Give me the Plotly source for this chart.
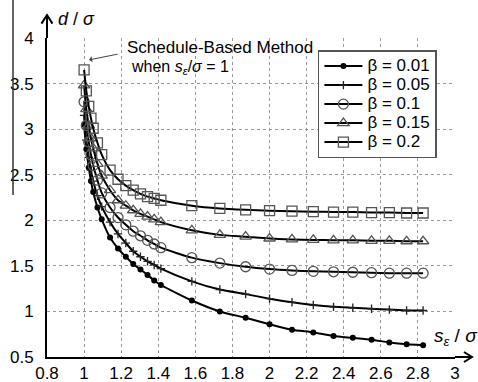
import plotly.graph_objects as go

# ---- data ----
s_ratio = [1.0, 1.012, 1.025, 1.037, 1.049, 1.072, 1.095, 1.14, 1.183, 1.225, 1.265, 1.304,
           1.342, 1.378, 1.414, 1.581, 1.732, 1.871, 2.0, 2.121, 2.236, 2.345, 2.449, 2.55,
           2.646, 2.739, 2.828]

d_beta_001 = [3.05, 2.78, 2.58, 2.43, 2.31, 2.14, 2.01, 1.81, 1.69, 1.60, 1.52, 1.46, 1.40, 1.34,
              1.29, 1.12, 1.00, 0.93, 0.86, 0.80, 0.77, 0.73, 0.71, 0.69, 0.66, 0.64, 0.63]
d_beta_005 = [3.15, 2.88, 2.69, 2.55, 2.43, 2.27, 2.15, 1.98, 1.85, 1.75, 1.66, 1.60, 1.55, 1.51,
              1.47, 1.33, 1.24, 1.19, 1.14, 1.10, 1.07, 1.05, 1.04, 1.03, 1.02, 1.01, 1.01]
d_beta_010 = [3.30, 3.04, 2.86, 2.72, 2.60, 2.44, 2.30, 2.14, 2.03, 1.95, 1.88, 1.83, 1.78, 1.74,
              1.70, 1.59, 1.53, 1.49, 1.465, 1.45, 1.44, 1.435, 1.43, 1.425, 1.42, 1.42, 1.42]
d_beta_015 = [3.48, 3.22, 3.04, 2.90, 2.79, 2.62, 2.49, 2.33, 2.22, 2.16, 2.11, 2.07, 2.04, 2.01,
              1.98, 1.89, 1.84, 1.82, 1.80, 1.79, 1.785, 1.78, 1.78, 1.775, 1.775, 1.77, 1.77]
d_beta_020 = [3.65, 3.42, 3.25, 3.12, 3.01, 2.85, 2.72, 2.55, 2.45, 2.38, 2.33, 2.29, 2.26, 2.24,
              2.22, 2.16, 2.13, 2.115, 2.105, 2.10, 2.095, 2.09, 2.09, 2.085, 2.085, 2.08, 2.08]

series_names = ["β = 0.01", "β = 0.05", "β = 0.1", "β = 0.15", "β = 0.2"]
series_values = [d_beta_001, d_beta_005, d_beta_010, d_beta_015, d_beta_020]

x_ticks = [0.8, 1.0, 1.2, 1.4, 1.6, 1.8, 2.0, 2.2, 2.4, 2.6, 2.8, 3.0]
x_tick_labels = ["0.8", "1", "1.2", "1.4", "1.6", "1.8", "2", "2.2", "2.4", "2.6", "2.8", "3"]
y_ticks = [0.5, 1.0, 1.5, 2.0, 2.5, 3.0, 3.5, 4.0]
y_tick_labels = ["0.5", "1", "1.5", "2", "2.5", "3", "3.5", "4"]

# ---- styles ----
FONT = "Liberation Sans, Arial, sans-serif"
marker_styles = [
    dict(symbol="circle", size=6, color="black", line=dict(width=0)),
    dict(symbol="cross-thin-open", size=6, color="#222", line=dict(width=1.3, color="#222")),
    dict(symbol="circle-open", size=10, color="#555", line=dict(width=1.3, color="#555")),
    dict(symbol="triangle-up-open", size=10, color="#555", line=dict(width=1.3, color="#555")),
    dict(symbol="square-open", size=10, color="#555", line=dict(width=1.3, color="#555")),
]

fig = go.Figure()
for name, vals, ms in zip(series_names, series_values, marker_styles):
    fig.add_trace(go.Scatter(
        x=s_ratio, y=vals, mode="lines+markers", name=f'<span style="font-size:17px">{name}</span>',
        line=dict(color="black", width=2, shape="spline", smoothing=0.6),
        marker=ms,
    ))

axis_common = dict(
    showgrid=True, gridcolor="#9a9a9a", griddash="dot", gridwidth=1,
    showline=True, linecolor="black", linewidth=2, mirror=False,
    zeroline=False, ticks="outside", tickcolor="rgba(0,0,0,0)",
    tickfont=dict(family=FONT, size=17, color="black"),
    automargin=False,
)

fig.update_layout(
    width=478, height=382,
    margin=dict(l=47, r=23, t=38, b=25, autoexpand=False),
    paper_bgcolor="white", plot_bgcolor="white",
    font=dict(family=FONT, color="black"),
    showlegend=True,
    legend=dict(
        x=0.664, y=0.962, xanchor="left", yanchor="top",
        bgcolor="white", bordercolor="#555", borderwidth=1.5,
        font=dict(family=FONT, size=12, color="black"),
        itemwidth=38,
    ),
    xaxis=dict(range=[0.8, 3.0], tickvals=x_ticks, ticktext=x_tick_labels, ticklen=0, **axis_common),
    yaxis=dict(range=[0.5, 4.0], tickvals=y_ticks, ticktext=y_tick_labels, ticklen=8, **axis_common),
)

# axis arrows (paper coordinates)
fig.add_shape(type="line", xref="paper", yref="paper", x0=0, x1=0, y0=1, y1=1.072,
              line=dict(color="black", width=2))
fig.add_shape(type="path", xref="paper", yref="paper",
              path="M -0.0135,1.045 L 0,1.072 L 0.0135,1.045", line=dict(color="black", width=2))
fig.add_shape(type="line", xref="paper", yref="paper", x0=1, x1=1.0417, y0=0, y1=0,
              line=dict(color="black", width=2))
fig.add_shape(type="path", xref="paper", yref="paper",
              path="M 1.022,0.0157 L 1.0417,0 L 1.022,-0.0157", line=dict(color="black", width=2))
# stray vertical line at the left edge of the reference
fig.add_shape(type="line", xref="paper", yref="paper", x0=-0.0833, x1=-0.0833, y0=0.508, y1=1.119,
              line=dict(color="#333", width=1.5))

# axis titles
fig.add_annotation(xref="paper", yref="paper", x=0.022, y=1.058, xanchor="left", yanchor="middle",
                   text="<i>d</i> / <i>σ</i>", showarrow=False, font=dict(family=FONT, size=18))
fig.add_annotation(xref="paper", yref="paper", x=0.944, y=0.063, xanchor="left", yanchor="middle",
                   text="<i>s</i><sub><i>ε</i></sub> / <i>σ</i>", showarrow=False,
                   font=dict(family=FONT, size=19))

# schedule-based method note
fig.add_annotation(xref="paper", yref="paper", x=0.19, y=0.969, xanchor="left", yanchor="middle",
                   text="Schedule-Based Method", showarrow=False, font=dict(family=FONT, size=17))
fig.add_annotation(xref="paper", yref="paper", x=0.2, y=0.906, xanchor="left", yanchor="middle",
                   text="when <i>s</i><sub><i>ε</i></sub>/<i>σ</i> = 1", showarrow=False,
                   font=dict(family=FONT, size=16))
fig.add_annotation(x=s_ratio[0] + 0.027, y=d_beta_020[0] + 0.11, ax=30, ay=-6,
                   text="", showarrow=True, arrowhead=1, arrowsize=1, arrowwidth=1, arrowcolor="#444")

fig.write_html("out.html", config={"displayModeBar": False},
               post_script="document.body.style.margin='0px';")
